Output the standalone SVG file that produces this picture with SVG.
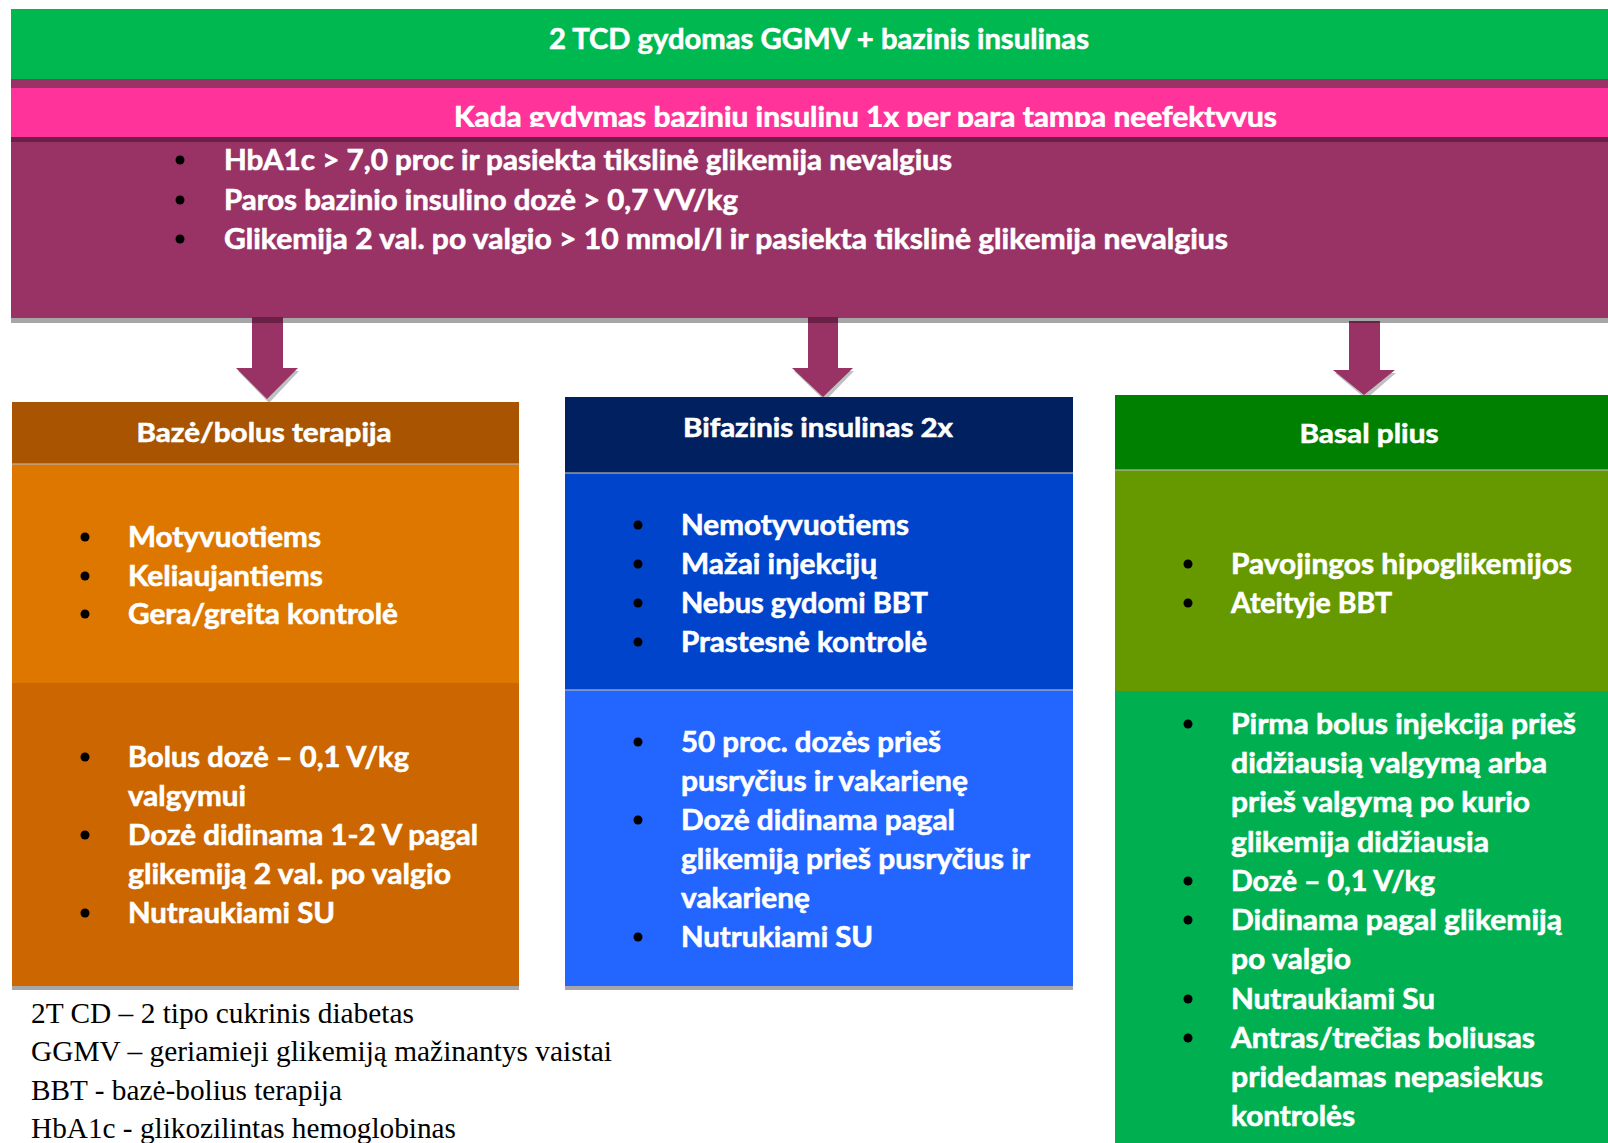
<svg xmlns="http://www.w3.org/2000/svg" width="1608" height="1143" viewBox="0 0 1608 1143">
<style>
.t{font-family:Lato,"Open Sans","Liberation Sans",sans-serif;font-weight:bold;fill:#fff;stroke:#fff;stroke-width:0.6}
.b{font-size:29px}
.h{font-size:27px}
.leg{font-family:"Liberation Serif","Times New Roman",serif;font-size:29px;fill:#000}
.dot{fill:#000}
.sep{stroke:#b4b4b4;stroke-width:1.5;opacity:0.8}
.shadow{fill:#a6a6a6}
.arrow{fill:#993366}
.ashadow{fill:#8c8c8c;opacity:0.55}
</style>
<defs>
<clipPath id="pinkclip"><rect x="11" y="88" width="1597" height="39"/></clipPath>
</defs>
<rect width="1608" height="1143" fill="#fff"/>

<g id="header">
<rect x="11" y="9" width="1597" height="70" fill="#00B850"/>
<text class="t" x="819" y="49" font-size="29" text-anchor="middle" textLength="540" lengthAdjust="spacingAndGlyphs">2 TCD gydomas GGMV + bazinis insulinas</text>
</g>

<g id="criteria">
<rect x="11" y="318" width="1597" height="5" class="shadow"/>
<rect x="11" y="79" width="1597" height="239" fill="#993366"/>
<rect x="11" y="137" width="1597" height="5" fill="#6b2046"/>
<rect x="11" y="88" width="1597" height="49" fill="#FF3399"/>
<g clip-path="url(#pinkclip)">
<text class="t" x="454" y="127" font-size="28" textLength="823" lengthAdjust="spacingAndGlyphs">Kada gydymas baziniu insulinu 1x per parą tampa neefektyvus</text>
</g>
<circle class="dot" cx="180" cy="160" r="4.5"/>
<circle class="dot" cx="180" cy="200" r="4.5"/>
<circle class="dot" cx="180" cy="239" r="4.5"/>
<text class="t" x="224" y="170" font-size="28" textLength="728" lengthAdjust="spacingAndGlyphs">HbA1c &gt; 7,0 proc ir pasiekta tikslinė glikemija nevalgius</text>
<text class="t" x="224" y="210" font-size="28" textLength="514" lengthAdjust="spacingAndGlyphs">Paros bazinio insulino dozė &gt; 0,7 VV/kg</text>
<text class="t" x="224" y="249" font-size="28" textLength="1004" lengthAdjust="spacingAndGlyphs">Glikemija 2 val. po valgio &gt; 10 mmol/l ir pasiekta tikslinė glikemija nevalgius</text>
</g>

<g id="connectors">
<g id="arrow1">
<polygon class="ashadow" points="238,371 299,371 269,403"/>
<polygon class="arrow" points="252,317 283,317 283,368 298,368 267,399 236,368 252,368"/>
<rect x="252" y="317" width="31" height="6" fill="#6b2046"/>
</g>
<g id="arrow2">
<polygon class="ashadow" points="794,371 854,371 825,401"/>
<polygon class="arrow" points="808,317 838,317 838,368 853,368 823,397 792,368 808,368"/>
<rect x="808" y="317" width="30" height="6" fill="#6b2046"/>
</g>
<g id="arrow3">
<polygon class="ashadow" points="1335,373 1396,373 1366,399"/>
<polygon class="arrow" points="1349,321 1380,321 1380,370 1395,370 1364,395 1333,370 1349,370"/>
<rect x="1349" y="321" width="31" height="2" fill="#6b2046"/>
</g>
</g>

<g id="node-bbt">
<rect x="12" y="986" width="507" height="4" class="shadow"/>
<rect x="12" y="402" width="507" height="62" fill="#A85400"/>
<rect x="12" y="464" width="507" height="219" fill="#DD7700"/>
<rect x="12" y="683" width="507" height="303" fill="#CC6600"/>
<line class="sep" x1="12" y1="464" x2="519" y2="464"/>
<text class="t h" x="264" y="442" text-anchor="middle" textLength="255" lengthAdjust="spacingAndGlyphs">Bazė/bolus terapija</text>
<circle class="dot" cx="85" cy="537" r="4.5"/>
<circle class="dot" cx="85" cy="576" r="4.5"/>
<circle class="dot" cx="85" cy="614" r="4.5"/>
<text class="t b" x="128" y="547" textLength="193" lengthAdjust="spacingAndGlyphs">Motyvuotiems</text>
<text class="t b" x="128" y="586" textLength="195" lengthAdjust="spacingAndGlyphs">Keliaujantiems</text>
<text class="t b" x="128" y="624" textLength="270" lengthAdjust="spacingAndGlyphs">Gera/greita kontrolė</text>
<circle class="dot" cx="85" cy="757" r="4.5"/>
<circle class="dot" cx="85" cy="835" r="4.5"/>
<circle class="dot" cx="85" cy="913" r="4.5"/>
<text class="t b" x="128" y="767" textLength="281" lengthAdjust="spacingAndGlyphs">Bolus dozė – 0,1 V/kg</text>
<text class="t b" x="128" y="806" textLength="118" lengthAdjust="spacingAndGlyphs">valgymui</text>
<text class="t b" x="128" y="845" textLength="350" lengthAdjust="spacingAndGlyphs">Dozė didinama 1-2 V pagal</text>
<text class="t b" x="128" y="884" textLength="323" lengthAdjust="spacingAndGlyphs">glikemiją 2 val. po valgio</text>
<text class="t b" x="128" y="923" textLength="207" lengthAdjust="spacingAndGlyphs">Nutraukiami SU</text>
</g>

<g id="node-bifazinis">
<rect x="565" y="986" width="508" height="4" class="shadow"/>
<rect x="565" y="397" width="508" height="76" fill="#002060"/>
<rect x="565" y="473" width="508" height="217" fill="#0044CC"/>
<rect x="565" y="690" width="508" height="296" fill="#2266FF"/>
<line class="sep" x1="565" y1="473" x2="1073" y2="473"/>
<line class="sep" x1="565" y1="690" x2="1073" y2="690"/>
<text class="t h" x="818" y="437" text-anchor="middle" textLength="270" lengthAdjust="spacingAndGlyphs">Bifazinis insulinas 2x</text>
<circle class="dot" cx="638" cy="525" r="4.5"/>
<circle class="dot" cx="638" cy="564" r="4.5"/>
<circle class="dot" cx="638" cy="603" r="4.5"/>
<circle class="dot" cx="638" cy="642" r="4.5"/>
<text class="t b" x="681" y="535" textLength="228" lengthAdjust="spacingAndGlyphs">Nemotyvuotiems</text>
<text class="t b" x="681" y="574" textLength="196" lengthAdjust="spacingAndGlyphs">Mažai injekcijų</text>
<text class="t b" x="681" y="613" textLength="247" lengthAdjust="spacingAndGlyphs">Nebus gydomi BBT</text>
<text class="t b" x="681" y="652" textLength="246" lengthAdjust="spacingAndGlyphs">Prastesnė kontrolė</text>
<circle class="dot" cx="638" cy="742" r="4.5"/>
<circle class="dot" cx="638" cy="820" r="4.5"/>
<circle class="dot" cx="638" cy="937" r="4.5"/>
<text class="t b" x="681" y="752" textLength="260" lengthAdjust="spacingAndGlyphs">50 proc. dozės prieš</text>
<text class="t b" x="681" y="791" textLength="287" lengthAdjust="spacingAndGlyphs">pusryčius ir vakarienę</text>
<text class="t b" x="681" y="830" textLength="274" lengthAdjust="spacingAndGlyphs">Dozė didinama pagal</text>
<text class="t b" x="681" y="869" textLength="349" lengthAdjust="spacingAndGlyphs">glikemiją prieš pusryčius ir</text>
<text class="t b" x="681" y="908" textLength="129" lengthAdjust="spacingAndGlyphs">vakarienę</text>
<text class="t b" x="681" y="947" textLength="192" lengthAdjust="spacingAndGlyphs">Nutrukiami SU</text>
</g>

<g id="node-basal">
<rect x="1115" y="395" width="493" height="75" fill="#008000"/>
<rect x="1115" y="470" width="493" height="221" fill="#669900"/>
<rect x="1115" y="691" width="493" height="452" fill="#00B050"/>
<line class="sep" x1="1115" y1="470" x2="1608" y2="470"/>
<text class="t h" x="1369" y="443" text-anchor="middle" textLength="139" lengthAdjust="spacingAndGlyphs">Basal plius</text>
<circle class="dot" cx="1188" cy="564" r="4.5"/>
<circle class="dot" cx="1188" cy="603" r="4.5"/>
<text class="t b" x="1231" y="574" textLength="341" lengthAdjust="spacingAndGlyphs">Pavojingos hipoglikemijos</text>
<text class="t b" x="1231" y="613" textLength="161" lengthAdjust="spacingAndGlyphs">Ateityje BBT</text>
<circle class="dot" cx="1188" cy="724" r="4.5"/>
<circle class="dot" cx="1188" cy="881" r="4.5"/>
<circle class="dot" cx="1188" cy="920" r="4.5"/>
<circle class="dot" cx="1188" cy="999" r="4.5"/>
<circle class="dot" cx="1188" cy="1038" r="4.5"/>
<text class="t b" x="1231" y="734" textLength="345" lengthAdjust="spacingAndGlyphs">Pirma bolus injekcija prieš</text>
<text class="t b" x="1231" y="773" textLength="316" lengthAdjust="spacingAndGlyphs">didžiausią valgymą arba</text>
<text class="t b" x="1231" y="812" textLength="299" lengthAdjust="spacingAndGlyphs">prieš valgymą po kurio</text>
<text class="t b" x="1231" y="852" textLength="258" lengthAdjust="spacingAndGlyphs">glikemija didžiausia</text>
<text class="t b" x="1231" y="891" textLength="204" lengthAdjust="spacingAndGlyphs">Dozė – 0,1 V/kg</text>
<text class="t b" x="1231" y="930" textLength="331" lengthAdjust="spacingAndGlyphs">Didinama pagal glikemiją</text>
<text class="t b" x="1231" y="969" textLength="120" lengthAdjust="spacingAndGlyphs">po valgio</text>
<text class="t b" x="1231" y="1009" textLength="204" lengthAdjust="spacingAndGlyphs">Nutraukiami Su</text>
<text class="t b" x="1231" y="1048" textLength="304" lengthAdjust="spacingAndGlyphs">Antras/trečias boliusas</text>
<text class="t b" x="1231" y="1087" textLength="312" lengthAdjust="spacingAndGlyphs">pridedamas nepasiekus</text>
<text class="t b" x="1231" y="1126" textLength="124" lengthAdjust="spacingAndGlyphs">kontrolės</text>
</g>

<g id="legend">
<text class="leg" x="31" y="1023" textLength="383" lengthAdjust="spacingAndGlyphs">2T CD – 2 tipo cukrinis diabetas</text>
<text class="leg" x="31" y="1061" textLength="581" lengthAdjust="spacingAndGlyphs">GGMV – geriamieji glikemiją mažinantys vaistai</text>
<text class="leg" x="31" y="1100" textLength="311" lengthAdjust="spacingAndGlyphs">BBT - bazė-bolius terapija</text>
<text class="leg" x="31" y="1138" textLength="425" lengthAdjust="spacingAndGlyphs">HbA1c - glikozilintas hemoglobinas</text>
</g>
</svg>
